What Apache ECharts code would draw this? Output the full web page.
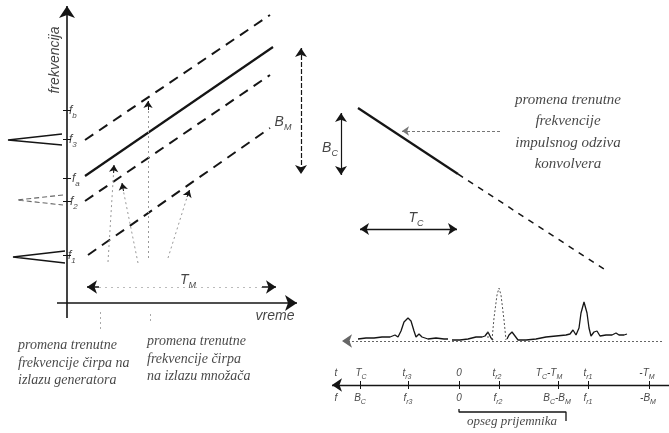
<!DOCTYPE html>
<html><head><meta charset="utf-8">
<style>html,body{margin:0;padding:0;background:#fff}#c{width:669px;height:433px}</style>
<script src="https://cdn.jsdelivr.net/npm/echarts@6/dist/echarts.min.js"></script>
</head><body><div id="c"></div>
<script>
// ===== data (diagram coordinates: x to the right, y downward) =====
// left diagram: frequency vs time
const freqAxis = [[67,318],[67,6]];
const timeAxis = [[57,303],[297,303]];
const chirpGen = [[85,176],[273,47]];
const chirpUpper = [[85,140],[270,15]];
const chirpMid = [[85,201],[270,75]];
const chirpLow = [[88,255],[270,128]];
const spikeF3 = [[62,134],[8,140],[62,145]];
const spikeF2 = [[63,195],[17,200],[63,205]];
const spikeF1 = [[65,251],[13,257],[65,263]];
const freqTickY = [110,139,178,201,255];
const freqLabels = ['f_b','f_3','f_a','f_2','f_1'];
const freqLabelX = [69,69,72,70,68];
const guideArrows = [
  [[148,258],[148,102]],
  [[108,262],[114,166]],
  [[138,263],[122,184]],
  [[168,258],[189,191]]
];
const guideTips = [
  [[148,110],[148,101]],
  [[113.6,173],[114,165]],
  [[123.5,191],[122,183]],
  [[187,197],[189.5,190]]
];
const guideLines = [[[100,312],[100,330]],[[150,314],[150,321]]];
const tmArrowL = [[99,287],[87,287]];
const tmArrowR = [[262,287],[276,287]];
const tmDots = [[99,287],[262,287]];

// right diagram: convolver
const bmArrow = [[301,48],[301,174]];
const bcArrow = [[341,113],[341,175]];
const tcArrow = [[360,229],[457,229]];
const convSolid = [[358,108],[458,174]];
const convDashed = [[458,174],[607,271]];
const annoArrow = [[500,131],[402,131]];

// correlation output signal
const sigBase = [[662,341],[342,341]];
const signalSeg1 = [[358,339],[366,338],[374,338],[382,337],[390,337],[395,335],[398,337],[401,331],[404,322],[408,318],[411,321],[414,331],[416,337],[419,334],[422,337],[428,339],[436,338],[444,339],[448,339]];
const signalSeg2 = [[452,340],[460,340],[468,339],[476,337],[482,337],[485,336],[488,332],[491,338],[493,340]];
const signalSeg3 = [[507,339],[509,335],[512,332],[515,336],[518,340],[526,340],[536,339],[546,337],[556,336],[566,335],[570,334],[573,330],[576,335],[579,328],[581,313],[584,302],[587,313],[589,328],[591,336],[594,332],[597,331],[600,336],[606,335],[612,335],[616,333],[619,335],[624,335],[627,334]];
const peakR2 = [[492,340],[494,318],[497,295],[499,288],[501,295],[504,320],[506,340]];
const peakR2Side = [[488,332],[488,340]];

// time / frequency axis
const tfAxis = [[669,385],[332,385]];
const tickX = [360,408,459,499,558,588,649];
const topLabels = ['t','T_C','t_r3','0','t_r2','T_C-T_M','t_r1','-T_M'];
const topLabelX = [336,361,407,459,497,549,588,647];
const bottomLabels = ['f','B_C','f_r3','0','f_r2','B_C-B_M','f_r1','-B_M'];
const bottomLabelX = [336,360,408,459,498,557,588,648];
const bracket = [[459,409],[459,412],[566,412],[566,421]];

// texts
const txtFreq = 'frekvencija';
const txtTime = 'vreme';
const txtGen = 'promena trenutne\nfrekvencije čirpa na\nizlazu generatora';
const txtMul = 'promena trenutne\nfrekvencije čirpa\nna izlazu množača';
const txtConv = 'promena trenutne\nfrekvencije\nimpulsnog odziva\nkonvolvera';
const txtBand = 'opseg prijemnika';

// ===== helpers =====
const INK = '#151515';
function rich(str){
  let out='', last=0, m; const re=/_([A-Za-z0-9]+)/g;
  while((m=re.exec(str))){ const main=str.slice(last,m.index); if(main) out+='{m|'+main+'}'; out+='{s|'+m[1]+'}'; last=re.lastIndex; }
  const rest=str.slice(last); if(rest) out+='{m|'+rest+'}'; return out;
}
function richStyle(main, sub){
  return {
    m:{fontSize:main, fontStyle:'italic', fontFamily:'Liberation Sans', color:INK, lineHeight:main+6},
    s:{fontSize:sub, fontStyle:'italic', fontFamily:'Liberation Sans', color:INK, lineHeight:sub+1, verticalAlign:'bottom'}
  };
}
function line(pts, color, width, type, z){
  return {type:'line', data:pts, symbol:'none', showSymbol:false, silent:true, animation:false,
    lineStyle:{color:color||INK, width:width||1.5, type:type||'solid'}, z:z||2};
}
function arrows(segs, symbols, size, color, width, type){
  return {type:'lines', coordinateSystem:'cartesian2d', silent:true, animation:false,
    data:segs.map(s=>({coords:s})), symbol:symbols, symbolSize:size,
    lineStyle:{color:color||INK, width:width||1.5, type:type||'solid', opacity:1}, z:3};
}
function texts(items, label){
  return {type:'scatter', symbolSize:1, silent:true, animation:false, itemStyle:{color:'rgba(0,0,0,0)'},
    data:items.map(it=>({value:[it[0],it[1]], label:{formatter:it[2]}})),
    label:Object.assign({show:true, position:'inside', color:INK}, label), z:10};
}

const series = [];
// axes
series.push(arrows([freqAxis, timeAxis], ['none','arrow'], [0,12], INK, 1.6));
series.push(arrows(freqTickY.map(y=>[[63,y],[71,y]]), ['none','none'], 0, INK, 1));
// chirps
series.push(line(chirpGen, INK, 2.2));
series.push(line(chirpUpper, INK, 2, [10,7]));
series.push(line(chirpMid, INK, 2, [10,7]));
series.push(line(chirpLow, INK, 2, [10,7]));
// spectral spikes
series.push(line(spikeF3, INK, 1.3));
series.push(line(spikeF2, '#666', 1.1, [5,3]));
series.push(line(spikeF1, INK, 1.3));
// faint guides
series.push(arrows(guideArrows, ['none','none'], 0, '#999', 1, [2,3]));
series.push(arrows(guideTips, ['none','arrow'], [0,7], INK, 1));
series.push(arrows(guideLines, ['none','none'], 0, '#aaa', 1, [2,3]));
// T_M
series.push(arrows([tmDots], ['none','none'], 0, '#bbb', 1, [2,4]));
series.push(arrows([tmArrowL, tmArrowR], ['none','arrow'], [0,10], INK, 1.5));
// right top
series.push(arrows([bmArrow], ['arrow','arrow'], [9,9], INK, 1.2, [5,2]));
series.push(arrows([bcArrow], ['arrow','arrow'], [9,9], INK, 1.2));
series.push(arrows([tcArrow], ['arrow','arrow'], [9,9], INK, 1.3));
series.push(line(convSolid, INK, 2.2));
series.push(line(convDashed, INK, 1.5, [6,6]));
series.push(arrows([annoArrow], ['none','arrow'], [0,7], '#777', 1, [3,2]));
// signal
series.push(arrows([sigBase], ['none','arrow'], [0,10], '#666', 1, [2,2]));
series.push(line(signalSeg1, INK, 1.3));
series.push(line(signalSeg2, INK, 1.3));
series.push(line(signalSeg3, INK, 1.3));
series.push(line(peakR2, '#555', 1, [2,2]));
series.push(line(peakR2Side, '#555', 1, [2,2]));
// t/f axis
series.push(arrows([tfAxis], ['none','arrow'], [0,10], INK, 1.4));
series.push(arrows(tickX.map(x=>[[x,381],[x,389]]), ['none','none'], 0, INK, 1));
series.push(line(bracket, INK, 1.3));

// labels
series.push(texts([[55,60,txtFreq]], {rotate:90, fontSize:14, fontStyle:'italic', fontFamily:'Liberation Sans'}));
series.push(texts([[275,316,txtTime]], {fontSize:14, fontStyle:'italic', fontFamily:'Liberation Sans'}));
series.push(texts(freqLabels.map((l,i)=>[freqLabelX[i], freqTickY[i]+1, rich(l)]), {align:'left', rich:richStyle(12,8)}));
series.push(texts([[188,280,rich('T_M')],[283,122,rich('B_M')],[330,148,rich('B_C')],[416,218,rich('T_C')]], {rich:richStyle(14,9)}));
series.push(texts(topLabels.map((l,i)=>[topLabelX[i],373,rich(l)]), {rich:richStyle(10,7)}));
series.push(texts(bottomLabels.map((l,i)=>[bottomLabelX[i],398,rich(l)]), {rich:richStyle(10,7)}));
const serif = {fontSize:14, fontStyle:'italic', fontFamily:'Liberation Serif', lineHeight:17.5};
series.push(texts([[18,363,txtGen],[147,359,txtMul]], Object.assign({align:'left'}, serif)));
series.push(texts([[568,132,txtConv]], Object.assign({}, serif, {lineHeight:21.5, fontSize:15})));
series.push(texts([[512,422,txtBand]], Object.assign({}, serif, {fontSize:13})));

const chart = echarts.init(document.getElementById('c'), null, {renderer:'canvas'});
chart.setOption({
  animation:false,
  backgroundColor:'#fff',
  grid:{left:0, right:0, top:0, bottom:0},
  xAxis:{type:'value', min:0, max:669, show:false},
  yAxis:{type:'value', min:0, max:433, inverse:true, show:false},
  series:series
});
</script></body></html>
